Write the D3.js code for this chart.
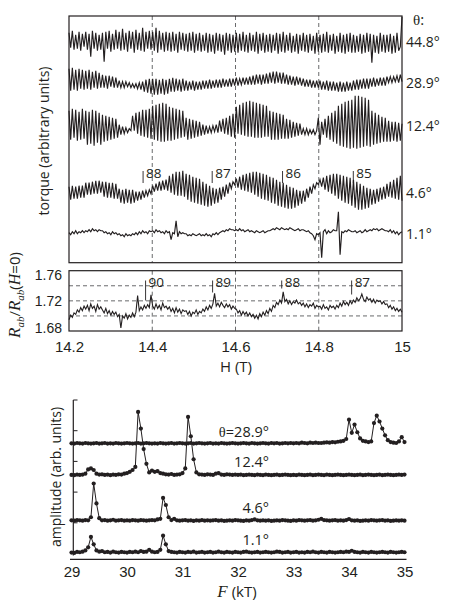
<!DOCTYPE html>
<html>
<head>
<meta charset="utf-8">
<script src="https://cdnjs.cloudflare.com/ajax/libs/d3/7.8.5/d3.min.js"></script>
<style>
  body { margin: 0; background: #fff; }
  svg { display: block; font-family: "Open Sans", "Liberation Sans", sans-serif; fill: #231f20; }
</style>
</head>
<body>
<svg id="chart" width="450" height="606"></svg>
<script>
// ---- data ----

// torque traces: 200 samples each, evenly spaced in H over 14.2..15 T (arb. units)
const torqueAngles = ["44.8°", "28.9°", "12.4°", "4.6°", "1.1°"];
const torqueOffsets = [222, 181, 138, 71, 30];

const torque448 = [
  8,-7,10,-9,6,-8,9,-10,7,-6, 9,-9,7,-16,10,-8,8,-10,6,-9,
  8,-21,9,-8,10,-11,7,-9,11,-8, 9,-10,12,-9,8,-11,10,-8,9,-12,
  11,-9,8,-10,13,-11,9,-8,10,-9, 9,-10,13,-12,10,-9,8,-11,9,-10,
  8,-11,9,-10,7,-12,9,-9,8,-10, 7,-11,8,-10,9,-12,7,-10,8,-11,
  6,-10,8,-12,7,-11,6,-13,8,-10, 7,-11,6,-14,8,-10,7,-12,6,-11,
  8,-12,7,-10,9,-11,6,-12,8,-10, 6,-11,9,-13,7,-10,8,-12,6,-11,
  7,-12,6,-10,8,-13,7,-11,9,-12, 6,-10,8,-12,5,-11,7,-13,6,-10,
  8,-11,6,-12,7,-10,5,-13,8,-11, 6,-12,7,-11,9,-12,6,-10,7,-13,
  5,-11,8,-12,6,-13,7,-11,8,-12, 6,-12,5,-11,7,-13,6,-12,8,-11,
  7,-22,6,-12,5,-13,8,-11,6,-12, 6,-11,7,-13,5,-12,8,-10,-6,24
];

const torque289 = [
  13,-9,14,-8,12,-9,13,-7,12,-8, 11,-7,12,-8,10,-6,11,-7,9,-6,
  7,-6,6,-7,6,-5,5,-6,4,-6, 1,-6,0,-6,0,-5,-1,-6,-2,-6,
  -2,-7,-1,-8,0,-10,2,-11,3,-12, 3,-13,3,-13,2,-12,3,-13,2,-12,
  3,-10,4,-10,3,-9,2,-10,3,-9, 1,-9,0,-8,1,-9,0,-8,0,-8,
  1,-7,1,-7,2,-7,1,-6,2,-6, 2,-6,3,-5,2,-5,3,-5,3,-4,
  4,-4,3,-3,4,-3,4,-3,5,-3, 6,-3,7,-2,7,-3,7,-2,8,-2,
  9,-1,10,-2,10,-1,9,-2,9,-2, 7,-3,6,-3,5,-4,5,-3,4,-4,
  3,-5,2,-5,2,-6,1,-6,1,-6, 1,-8,0,-8,1,-9,0,-9,0,-9,
  -1,-10,0,-10,-1,-10,0,-9,-1,-9, 1,-8,2,-8,2,-7,3,-7,3,-7,
  3,-5,4,-5,3,-4,4,-4,4,-4, 5,-1,5,-1,5,0,6,-1,7,0
];

const torque124 = [
  14,-15,16,-13,15,-16,13,-15,16,-14, 14,-20,13,-19,15,-21,14,-18,12,-20,
  10,-17,9,-16,8,-15,7,-14,6,-13, 0,-10,-2,-9,-3,-8,-4,-6,9,-6,
  12,-9,13,-11,15,-12,15,-13,16,-14, 19,-15,20,-16,21,-17,22,-17,21,-16,
  18,-16,17,-15,16,-14,15,-13,14,-12, 7,-15,6,-14,5,-13,4,-12,3,-11,
  0,-10,-1,-9,-2,-8,-1,-7,0,-8, 4,-7,6,-9,7,-10,9,-12,11,-13,
  18,-9,20,-10,22,-11,23,-12,24,-12, 23,-13,22,-13,21,-13,20,-12,19,-12,
  14,-15,13,-15,12,-15,11,-14,10,-14, 6,-14,5,-13,3,-12,2,-11,1,-10,
  -4,-10,-4,-10,-5,-9,-5,-10,-6,7, -20,3,-10,6,-13,9,-15,12,-17,14,
  -19,19,-21,21,-22,23,-23,24,-24,25, -23,29,-24,29,-23,28,-22,27,-21,25,
  -22,14,-20,12,-19,10,-18,8,-17,7, -17,4,-17,3,-16,3,-17,2,-16,1
];

const torque46 = [
  5,-8,6,-7,5,-7,6,-6,6,-6, 9,-3,9,-3,10,-2,11,-2,11,-1,
  10,-5,10,-6,9,-6,9,-7,8,-7, 3,-11,2,-12,3,-11,2,-12,2,-11,
  0,-9,0,-8,1,-6,1,-4,2,-2, 6,0,8,1,10,1,11,2,12,1,
  16,-1,18,-3,20,-4,20,-4,21,-5, 18,-8,17,-10,15,-11,14,-12,13,-13,
  10,-14,8,-15,6,-14,4,-12,3,-11, 4,-8,5,-5,7,-2,9,3,10,7,
  13,4,15,2,17,1,18,0,19,-1, 20,-3,20,-5,19,-7,18,-8,17,-9,
  15,-11,14,-12,12,-14,10,-15,9,-16, 7,-17,5,-17,4,-16,2,-14,1,-12,
  1,-10,3,-6,5,-2,7,3,9,7, 12,5,14,2,16,0,17,-2,18,-4,
  18,-7,17,-9,16,-11,15,-12,14,-14, 12,-16,10,-18,8,-18,6,-17,4,-16,
  3,-13,2,-12,3,-10,4,-8,5,-7, 8,-5,10,-6,12,-7,14,-8,16,-9
];

const torque11 = [
  0,-2,1,-1,2,-1,1,0,2,0, 2,1,3,1,4,2,3,1,3,2,
  2,0,1,-1,0,-2,1,-1,0,-2, -1,-3,-2,-4,-1,-3,-2,-3,-1,-2,
  0,-2,1,-1,2,0,1,-1,2,1, 2,0,3,1,2,0,1,-1,2,0,
  1,-7,0,-1,12,-4,1,-1,0,-1, -1,-3,-2,-3,-1,-2,-3,-2,-1,-3,
  -2,-3,-1,-3,-2,-4,-1,-2,0,-2, 0,1,2,1,3,2,4,3,3,2,
  3,2,4,2,3,1,2,3,1,2, 1,0,2,1,0,1,2,0,1,2,
  2,3,4,3,5,4,3,5,4,3, 4,3,5,4,3,2,3,4,2,3,
  3,2,1,2,0,-1,-3,-7,-1,-2, 0,-25,1,3,-1,2,0,1,3,2,
  2,21,-22,1,0,2,1,3,2,1, 1,2,0,1,2,0,1,3,1,2,
  3,2,4,3,4,2,3,4,3,2, 2,1,3,0,2,-1,1,-2,0,1
];

// R_ab / R_ab(H=0), same 200-point field grid
const resistance = [
  1.695,1.701,1.698,1.704,1.702,1.708,1.705,1.711,1.707,1.713,
  1.709,1.714,1.707,1.716,1.710,1.713,1.706,1.715,1.709,1.712,
  1.708,1.704,1.710,1.703,1.707,1.701,1.706,1.702,1.705,1.699,
  1.702,1.684,1.700,1.697,1.703,1.696,1.701,1.698,1.704,1.699,
  1.705,1.727,1.707,1.712,1.708,1.714,1.710,1.715,1.711,1.728,
  1.713,1.709,1.716,1.710,1.714,1.708,1.717,1.711,1.713,1.709,
  1.712,1.706,1.710,1.704,1.711,1.705,1.709,1.703,1.708,1.706,
  1.707,1.702,1.706,1.700,1.705,1.703,1.708,1.702,1.706,1.704,
  1.709,1.706,1.712,1.708,1.714,1.710,1.716,1.730,1.713,1.717,
  1.712,1.718,1.714,1.711,1.716,1.712,1.715,1.709,1.713,1.710,
  1.709,1.704,1.707,1.701,1.706,1.702,1.705,1.700,1.704,1.699,
  1.702,1.697,1.701,1.696,1.703,1.699,1.705,1.701,1.707,1.703,
  1.710,1.706,1.714,1.711,1.718,1.715,1.721,1.717,1.732,1.719,
  1.722,1.716,1.720,1.715,1.719,1.717,1.721,1.716,1.718,1.714,
  1.717,1.712,1.716,1.711,1.715,1.713,1.717,1.710,1.714,1.712,
  1.713,1.709,1.715,1.710,1.712,1.708,1.714,1.711,1.713,1.709,
  1.714,1.711,1.717,1.713,1.719,1.715,1.718,1.714,1.720,1.716,
  1.721,1.718,1.724,1.720,1.723,1.729,1.722,1.719,1.725,1.721,
  1.723,1.718,1.722,1.717,1.721,1.719,1.720,1.716,1.719,1.715,
  1.716,1.711,1.714,1.709,1.712,1.707,1.710,1.706,1.709,1.705
];

const fieldTicks = [14.2, 14.4, 14.6, 14.8, 15];
const fieldGridLines = [14.4, 14.6, 14.8];
const rTicks = [1.68, 1.72, 1.76];
const rGridLines = [1.70, 1.72, 1.74];

// Landau level markers
const torqueLevels = [88, 87, 86, 85];
const torqueLevelH = [14.378, 14.544, 14.713, 14.883];
const rLevels = [90, 89, 88, 87];
const rLevelH = [14.384, 14.545, 14.711, 14.879];

// FFT spectra: 121 points each, F = 29.00 .. 35.00 kT in 0.05 steps
const spectrumLabels = ["θ=28.9°", "12.4°", "4.6°", "1.1°"];
const spectrumOffsets = [3.55, 2.52, 1.03, 0.0];

const spec289 = [
  0.04,0.03,0.05,0.04,0.03,0.05,0.04,0.03,0.04,0.05,
  0.03,0.04,0.05,0.03,0.04,0.03,0.05,0.04,0.03,0.04,
  0.05,0.04,0.03,0.04,0.05,0.03,0.04,0.05,0.04,0.03,
  0.04,0.03,0.05,0.04,0.03,0.04,0.05,0.03,0.04,0.05,
  0.04,0.03,0.04,0.05,0.03,0.04,0.05,0.04,0.03,0.04,
  0.05,0.03,0.04,0.03,0.05,0.04,0.03,0.04,0.05,0.04,
  0.03,0.04,0.05,0.04,0.03,0.05,0.04,0.03,0.04,0.05,
  0.04,0.03,0.05,0.04,0.05,0.03,0.04,0.05,0.04,0.05,
  0.04,0.05,0.04,0.06,0.05,0.04,0.06,0.05,0.06,0.05,
  0.05,0.06,0.07,0.06,0.08,0.07,0.09,0.10,0.12,0.18,
  0.81,0.38,0.65,0.40,0.20,0.12,0.10,0.08,0.10,0.70,
  0.94,0.75,0.52,0.30,0.14,0.08,0.06,0.05,0.10,0.24,
  0.08
];

const spec124 = [
  0.04,0.03,0.05,0.04,0.05,0.08,0.22,0.25,0.20,0.08,
  0.05,0.06,0.04,0.05,0.03,0.05,0.04,0.06,0.05,0.08,
  0.10,0.14,0.20,0.30,2.09,1.55,0.88,0.40,0.12,0.18,
  0.14,0.16,0.10,0.08,0.06,0.05,0.07,0.04,0.05,0.06,
  0.10,0.25,1.93,1.30,0.55,0.12,0.06,0.05,0.04,0.06,
  0.05,0.04,0.08,0.10,0.05,0.04,0.06,0.05,0.04,0.05,
  0.04,0.05,0.03,0.04,0.05,0.04,0.03,0.05,0.04,0.03,
  0.05,0.04,0.03,0.04,0.05,0.03,0.04,0.05,0.04,0.03,
  0.04,0.03,0.05,0.04,0.03,0.04,0.05,0.03,0.04,0.05,
  0.04,0.03,0.05,0.04,0.03,0.04,0.05,0.04,0.03,0.04,
  0.05,0.04,0.03,0.04,0.05,0.03,0.04,0.05,0.04,0.03,
  0.04,0.05,0.03,0.04,0.05,0.04,0.03,0.04,0.05,0.04,
  0.05
];

const spec46 = [
  0.05,0.04,0.06,0.05,0.04,0.06,0.05,0.15,1.25,0.60,
  0.12,0.05,0.06,0.04,0.05,0.07,0.04,0.05,0.06,0.04,
  0.05,0.04,0.06,0.05,0.04,0.06,0.05,0.04,0.05,0.06,
  0.05,0.08,0.10,0.78,0.55,0.15,0.06,0.10,0.05,0.04,
  0.05,0.06,0.04,0.05,0.03,0.05,0.04,0.06,0.04,0.05,
  0.04,0.05,0.06,0.04,0.05,0.03,0.04,0.05,0.04,0.06,
  0.05,0.04,0.03,0.05,0.04,0.06,0.08,0.05,0.04,0.05,
  0.04,0.05,0.03,0.04,0.05,0.04,0.06,0.05,0.04,0.03,
  0.05,0.04,0.06,0.05,0.04,0.05,0.06,0.04,0.05,0.07,
  0.10,0.06,0.05,0.04,0.05,0.06,0.04,0.05,0.04,0.06,
  0.09,0.05,0.04,0.05,0.03,0.04,0.05,0.04,0.06,0.05,
  0.04,0.05,0.06,0.04,0.05,0.03,0.04,0.05,0.04,0.05,
  0.04
];

const spec11 = [
  0.03,0.02,0.05,0.04,0.06,0.10,0.20,0.54,0.30,0.10,
  0.06,0.08,0.04,0.05,0.03,0.06,0.04,0.03,0.05,0.04,
  0.03,0.05,0.04,0.06,0.04,0.08,0.05,0.06,0.12,0.06,
  0.04,0.05,0.12,0.58,0.30,0.08,0.05,0.04,0.03,0.05,
  0.04,0.03,0.05,0.04,0.06,0.03,0.04,0.05,0.03,0.04,
  0.05,0.03,0.04,0.06,0.04,0.03,0.05,0.04,0.03,0.05,
  0.04,0.03,0.05,0.06,0.04,0.03,0.04,0.05,0.03,0.04,
  0.05,0.04,0.03,0.04,0.06,0.05,0.03,0.04,0.05,0.03,
  0.04,0.05,0.03,0.04,0.03,0.05,0.04,0.06,0.04,0.03,
  0.05,0.04,0.03,0.05,0.04,0.03,0.04,0.05,0.04,0.06,
  0.05,0.09,0.05,0.04,0.03,0.05,0.04,0.03,0.05,0.04,
  0.03,0.04,0.05,0.04,0.03,0.05,0.04,0.03,0.04,0.05,
  0.04
];

const freqTicks = [29, 30, 31, 32, 33, 34, 35];

// ---- drawing ----
const svg = d3.select("#chart");
const ink = "#231f20";
const dashCol = "#58595b";
const serif = "'Liberation Serif', serif";

const hGrid = d3.range(200).map(i => 14.2 + 0.8 * i / 199);
const fGrid = d3.range(121).map(j => 29 + 0.05 * j);

const xH = d3.scaleLinear().domain([14.2, 15]).range([69, 402]);
const yT = d3.scaleLinear().domain([0, 246.7]).range([262.7, 16]);
const yR = d3.scaleLinear().domain([1.68, 1.76]).range([331, 270.7]);
const xF = d3.scaleLinear().domain([29, 35]).range([71.5, 404.5]);
const yA = d3.scaleLinear().domain([0, 5]).range([553.5, 400]);

// top panel: torque
const torquePanel = svg.append("g");
torquePanel.selectAll("line.vgrid")
  .data(fieldGridLines)
  .enter().append("line")
    .attr("x1", d => xH(d)).attr("x2", d => xH(d))
    .attr("y1", yT.range()[1]).attr("y2", yT.range()[0])
    .attr("stroke", dashCol).attr("stroke-width", 0.9)
    .attr("stroke-dasharray", "4,3");

const torqueSeries = [torque448, torque289, torque124, torque46, torque11];
torqueSeries.forEach((vals, k) => {
  const line = d3.line()
    .x((d, i) => xH(hGrid[i]))
    .y(d => yT(torqueOffsets[k] + d));
  torquePanel.append("path")
    .attr("d", line(vals))
    .attr("fill", "none")
    .attr("stroke", ink)
    .attr("stroke-width", 1.15);
});

torquePanel.append("rect")
  .attr("x", 69).attr("y", 16)
  .attr("width", 333).attr("height", 246.7)
  .attr("fill", "none").attr("stroke", ink).attr("stroke-width", 1.2);

torqueAngles.forEach((a, k) => {
  torquePanel.append("text")
    .attr("x", 406).attr("y", yT(torqueOffsets[k]) + 6)
    .attr("font-size", 14)
    .text(a);
});
const thetaHead = torquePanel.append("text").attr("x", 413).attr("y", 25).attr("font-size", 15);
thetaHead.append("tspan").attr("font-family", serif).text("θ");
thetaHead.append("tspan").text(":");

torqueLevels.forEach((n, k) => {
  const x = xH(torqueLevelH[k]);
  torquePanel.append("line")
    .attr("x1", x).attr("x2", x).attr("y1", 171).attr("y2", 183)
    .attr("stroke", ink).attr("stroke-width", 0.9);
  torquePanel.append("text")
    .attr("x", x + 3).attr("y", 178)
    .attr("font-size", 13.5)
    .text(n);
});

svg.append("text")
  .attr("transform", "translate(49,141) rotate(-90)")
  .attr("text-anchor", "middle")
  .attr("font-size", 14)
  .text("torque (arbitrary units)");

// middle panel: resistance
const resPanel = svg.append("g");
resPanel.selectAll("line.vgrid")
  .data(fieldGridLines)
  .enter().append("line")
    .attr("x1", d => xH(d)).attr("x2", d => xH(d))
    .attr("y1", yR.range()[1]).attr("y2", yR.range()[0])
    .attr("stroke", dashCol).attr("stroke-width", 0.9)
    .attr("stroke-dasharray", "4,3");
resPanel.selectAll("line.hgrid")
  .data(rGridLines)
  .enter().append("line")
    .attr("x1", 69).attr("x2", 402)
    .attr("y1", d => yR(d)).attr("y2", d => yR(d))
    .attr("stroke", dashCol).attr("stroke-width", 0.9)
    .attr("stroke-dasharray", "4,3");

resPanel.append("path")
  .attr("d", d3.line().x((d, i) => xH(hGrid[i])).y(d => yR(d))(resistance))
  .attr("fill", "none").attr("stroke", ink).attr("stroke-width", 1.1);

const rTickLen = [20, 12, 8, 14];
rLevels.forEach((n, k) => {
  const x = xH(rLevelH[k]);
  resPanel.append("line")
    .attr("x1", x).attr("x2", x).attr("y1", 280.5).attr("y2", 280.5 + rTickLen[k])
    .attr("stroke", ink).attr("stroke-width", 0.9);
  resPanel.append("text")
    .attr("x", x + 3).attr("y", 287)
    .attr("font-size", 13.5)
    .text(n);
});

resPanel.append("rect")
  .attr("x", 69).attr("y", 270.7)
  .attr("width", 333).attr("height", 60.3)
  .attr("fill", "none").attr("stroke", ink).attr("stroke-width", 1.2);

const rAxis = d3.axisLeft(yR).tickValues(rTicks).tickSize(0).tickPadding(7)
  .tickFormat(d3.format(".2f"));
const rAxisG = resPanel.append("g").attr("transform", "translate(69,0)").call(rAxis);
rAxisG.select(".domain").remove();
rAxisG.selectAll("text")
  .attr("font-size", 14).attr("font-family", null).attr("fill", ink)
  .attr("dy", d => d === 1.76 ? "0.62em" : d === 1.68 ? "0.1em" : "0.34em");

const hAxis = d3.axisBottom(xH).tickValues(fieldTicks).tickSize(0).tickPadding(10)
  .tickFormat(d => d);
const hAxisG = resPanel.append("g").attr("transform", "translate(0,331)").call(hAxis);
hAxisG.select(".domain").remove();
hAxisG.selectAll("text").attr("font-size", 15).attr("font-family", null).attr("fill", ink);

svg.append("text")
  .attr("x", 236).attr("y", 372)
  .attr("text-anchor", "middle").attr("font-size", 15)
  .text("H (T)");

const rLabel = svg.append("text")
  .attr("transform", "translate(20,295) rotate(-90)")
  .attr("text-anchor", "middle")
  .attr("font-size", 15);
rLabel.append("tspan").attr("font-family", serif).attr("font-style", "italic").attr("font-size", 17).text("R");
rLabel.append("tspan").attr("font-family", serif).attr("font-style", "italic").attr("font-size", 11).attr("dy", 4).text("ab");
rLabel.append("tspan").attr("dy", -4).text("/");
rLabel.append("tspan").attr("font-family", serif).attr("font-style", "italic").attr("font-size", 17).text("R");
rLabel.append("tspan").attr("font-family", serif).attr("font-style", "italic").attr("font-size", 11).attr("dy", 4).text("ab");
rLabel.append("tspan").attr("dy", -4).text("(");
rLabel.append("tspan").attr("font-family", serif).attr("font-style", "italic").attr("font-size", 16).text("H");
rLabel.append("tspan").text("=0)");

// bottom panel: FFT spectra
const fftPanel = svg.append("g");
fftPanel.append("line")
  .attr("x1", 73.3).attr("x2", 73.3).attr("y1", 400).attr("y2", 555.5)
  .attr("stroke", ink).attr("stroke-width", 1.2);
fftPanel.selectAll("line.ytick")
  .data([1, 2, 3, 4, 5])
  .enter().append("line")
    .attr("x1", 73.3).attr("x2", 77.5)
    .attr("y1", d => yA(d)).attr("y2", d => yA(d))
    .attr("stroke", ink).attr("stroke-width", 1);

const fAxis = d3.axisBottom(xF).tickValues(freqTicks).tickSize(0).tickPadding(7)
  .tickFormat(d3.format("d"));
const fAxisG = fftPanel.append("g").attr("transform", "translate(0,559.3)").call(fAxis);
fAxisG.select(".domain").attr("d", "M70,0H406.5").attr("stroke", ink).attr("stroke-width", 1.3);
fAxisG.selectAll("text").attr("font-size", 15).attr("font-family", null).attr("fill", ink);

const spectra = [spec289, spec124, spec46, spec11];
spectra.forEach((vals, k) => {
  const g = fftPanel.append("g");
  const line = d3.line()
    .x((d, j) => xF(fGrid[j]))
    .y(d => yA(spectrumOffsets[k] + d));
  g.append("path")
    .attr("d", line(vals))
    .attr("fill", "none").attr("stroke", ink).attr("stroke-width", 1);
  g.selectAll("circle")
    .data(vals)
    .enter().append("circle")
      .attr("cx", (d, j) => xF(fGrid[j]))
      .attr("cy", d => yA(spectrumOffsets[k] + d))
      .attr("r", 2.1)
      .attr("fill", ink);
});

const specLabelY = [436.7, 466.7, 513.3, 545];
spectrumLabels.forEach((s, k) => {
  const t = fftPanel.append("text")
    .attr("x", 269).attr("y", specLabelY[k])
    .attr("text-anchor", "end").attr("font-size", 14.5);
  if (s.startsWith("θ")) {
    t.append("tspan").attr("font-family", serif).text("θ");
    t.append("tspan").text(s.slice(1));
  } else {
    t.text(s);
  }
});

svg.append("text")
  .attr("transform", "translate(61,477) rotate(-90)")
  .attr("text-anchor", "middle")
  .attr("font-size", 14)
  .text("amplitude (arb. units)");

const fLabel = svg.append("text")
  .attr("x", 237).attr("y", 597)
  .attr("text-anchor", "middle").attr("font-size", 15);
fLabel.append("tspan").attr("font-family", serif).attr("font-style", "italic").attr("font-size", 17).text("F");
fLabel.append("tspan").text(" (kT)");
</script>
</body>
</html>
